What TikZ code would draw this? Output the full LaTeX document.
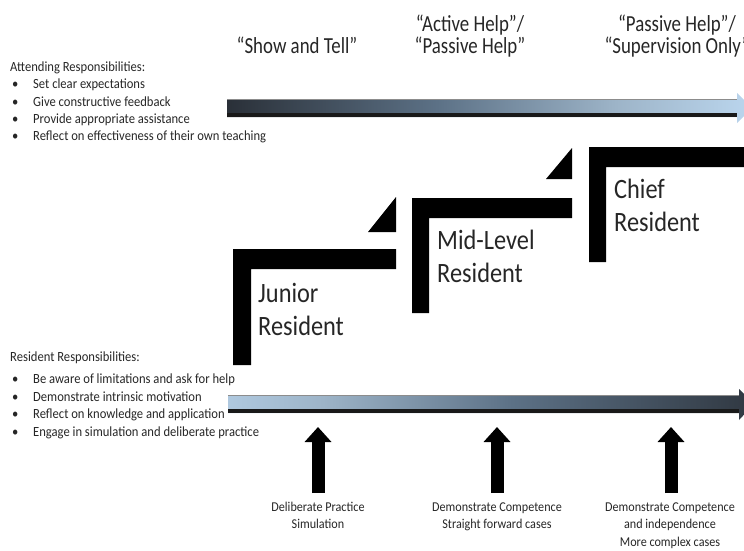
\documentclass[tikz,border=0pt]{standalone}
\usepackage{fontspec}
\setmainfont{Carlito}
\newfontfamily\headfont{Carlito}[FakeStretch=0.82]
\newfontfamily\stepfont{Carlito}[FakeStretch=0.87]
\newfontfamily\smallfont{Carlito}[FakeStretch=0.9]
\usetikzlibrary{arrows.meta}

\definecolor{barblue}{HTML}{BBD6EE}
\definecolor{barlight}{HTML}{9DB4C8}
\definecolor{barmid}{HTML}{5C7186}
\definecolor{bardark}{HTML}{2A3038}
\definecolor{inkgrey}{HTML}{262626}

% gradients of the two timeline bars
\pgfdeclarehorizontalshading{darktolight}{100bp}{color(0bp)=(black); color(8bp)=(black); color(25bp)=(bardark); color(45bp)=(barmid); color(62bp)=(barlight); color(75bp)=(barblue); color(100bp)=(barblue)}
\pgfdeclarehorizontalshading{lighttodark}{100bp}{color(0bp)=(barblue); color(19bp)=(barblue); color(34bp)=(barlight); color(52bp)=(barmid); color(78bp)=(bardark); color(92bp)=(black); color(100bp)=(black)}

\tikzset{
  headlabel/.style={font=\headfont\fontsize{23}{21}\selectfont, text=inkgrey, align=center, inner sep=0pt},
  steplabel/.style={font=\stepfont\fontsize{28}{32.5}\selectfont, text=inkgrey, align=left, inner sep=0pt},
  listlabel/.style={font=\smallfont\fontsize{14}{17.5}\selectfont, text=inkgrey, inner sep=0pt},
  footlabel/.style={font=\smallfont\fontsize{13.5}{17.5}\selectfont, text=inkgrey, align=center, inner sep=0pt},
  stairfill/.style={fill=black},
  uparrow/.style={draw=black, line width=13pt, -{Triangle[width=26pt,length=15pt]}},
}

\begin{document}
\begin{tikzpicture}[x=1pt,y=-1pt]
\useasboundingbox (0,0) rectangle (744,551);

% column headings (anchored on the baseline of their last line)
\node[headlabel, anchor=base] (show) at (297,53) {“Show and Tell”};
\node[headlabel, anchor=base] (active) at (470,53) {“Active Help”/\\“Passive Help”};
\node[headlabel, anchor=base] (passive) at (677,53) {“Passive Help”/\\“Supervision Only”};

% attending responsibilities
\node[listlabel, anchor=base west] (attending) at (10,71) {%
\begin{tabular}[t]{@{\hspace{2pt}}p{21pt}@{}l@{}}
\multicolumn{2}{@{}l@{}}{Attending Responsibilities:}\\
\textbullet & Set clear expectations\\
\textbullet & Give constructive feedback\\
\textbullet & Provide appropriate assistance\\
\textbullet & Reflect on effectiveness of their own teaching
\end{tabular}};

% resident responsibilities
\node[listlabel, anchor=base west] (resident) at (10,361) {%
\begin{tabular}[t]{@{\hspace{2pt}}p{21pt}@{}l@{}}
\multicolumn{2}{@{}l@{}}{Resident Responsibilities:}\\[5pt]
\textbullet & Be aware of limitations and ask for help\\
\textbullet & Demonstrate intrinsic motivation\\
\textbullet & Reflect on knowledge and application\\
\textbullet & Engage in simulation and deliberate practice
\end{tabular}};

% top timeline bar (attending support fades out)
\coordinate (topstart) at (227,99);
\shade[shading=darktolight] (topstart) -- (737,99) -- (737,93) -- (752,108) -- (737,123) -- (737,117) -- (227,117) -- cycle;
\fill[black!90] (227,113) rectangle (737,117);
\draw[black!45, line width=0.6pt] (227,99) -- (737,99);

% bottom timeline bar (resident independence grows)
\coordinate (botstart) at (228,395);
\shade[shading=lighttodark] (botstart) -- (739,395) -- (739,389) -- (754,404) -- (739,420) -- (739,413) -- (228,413) -- cycle;
\fill[black!90] (228,409) rectangle (739,413);
\draw[black!45, line width=0.6pt] (228,395) -- (739,395);

% stairs
\fill[stairfill] (233,365) -- (233,249) -- (396,249) -- (396,269) -- (251,269) -- (251,365) -- cycle;
\fill[stairfill] (368,232) -- (396,232) -- (396,197) -- cycle;
\fill[stairfill] (412,313) -- (412,198) -- (572,198) -- (572,218) -- (429,218) -- (429,313) -- cycle;
\fill[stairfill] (546,179) -- (572,179) -- (572,148) -- cycle;
\fill[stairfill] (589,262) -- (589,147) -- (750,147) -- (750,167) -- (606,167) -- (606,262) -- cycle;

% stage names (anchored on the baseline of their last line)
\node[steplabel, anchor=base west] (junior) at (258,335) {Junior\\Resident};
\node[steplabel, anchor=base west] (midlevel) at (437,282) {Mid-Level\\Resident};
\node[steplabel, anchor=base west] (chief) at (614,231) {Chief\\Resident};

% milestones below the resident bar
\node[footlabel, anchor=base] (practice) at (318,528.5) {Deliberate Practice\\Simulation};
\node[footlabel, anchor=base] (straight) at (497,528.5) {Demonstrate Competence\\Straight forward cases};
\node[footlabel, anchor=base] (complex) at (670,546) {Demonstrate Competence\\and independence\\More complex cases};

\coordinate (base1) at (318,493); \coordinate (tip1) at (318,427);
\coordinate (base2) at (497,493); \coordinate (tip2) at (497,427);
\coordinate (base3) at (671,493); \coordinate (tip3) at (671,427);
\draw[uparrow] (base1) -- (tip1);
\draw[uparrow] (base2) -- (tip2);
\draw[uparrow] (base3) -- (tip3);
\end{tikzpicture}
\end{document}
